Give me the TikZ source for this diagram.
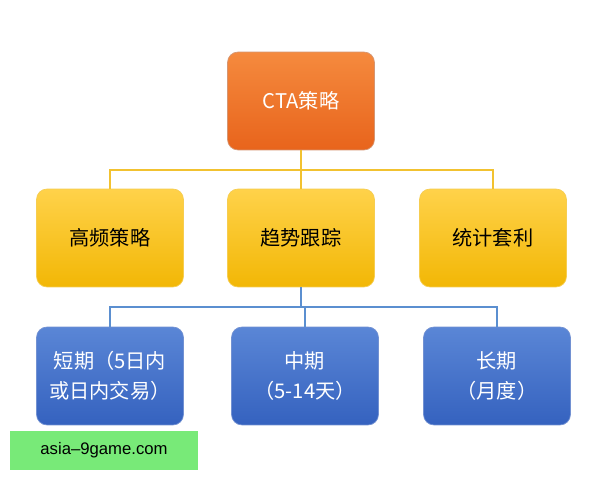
\documentclass[tikz,border=0pt]{standalone}
\usepackage{fontspec}
\setmainfont{Noto Sans CJK SC}
\usetikzlibrary{positioning}
\definecolor{orT}{HTML}{F58A3E}\definecolor{orB}{HTML}{E8641C}
\definecolor{yeT}{HTML}{FFD24A}\definecolor{yeB}{HTML}{F2B705}
\definecolor{blT}{HTML}{5A86D6}\definecolor{blB}{HTML}{3562BF}
\definecolor{yline}{HTML}{F2C230}\definecolor{bline}{HTML}{5B8FD0}
\definecolor{wm}{HTML}{78EA78}
\begin{document}
\begin{tikzpicture}[x=0.02cm,y=-0.02cm,
 box/.style={rounded corners=6pt,minimum width=2.94cm,minimum height=1.96cm,align=center,font=\fontsize{11.5}{17}\selectfont,inner sep=0pt},
 obox/.style={box,top color=orT,bottom color=orB,draw=orB!80!black!60,text=white},
 ybox/.style={box,top color=yeT,bottom color=yeB,draw=yeB!70,text=black},
 bbox/.style={box,top color=blT,bottom color=blB,draw=blB!70,text=white},
 yl/.style={yline,line width=1.2pt},
 bl/.style={bline,line width=1.2pt}]
\useasboundingbox (0,0) rectangle (600,480);
\fill[white] (0,0) rectangle (600,480);
\node[obox] (top) at (301,101) {CTA策略};
\node[ybox] (m1) at (110,238) {高频策略};
\node[ybox] (m2) at (301,238) {趋势跟踪};
\node[ybox] (m3) at (493,238) {统计套利};
\node[bbox] (b1) at (110,376) {短期（5日内\\或日内交易）};
\node[bbox] (b2) at (305,376) {中期\\（5-14天）};
\node[bbox] (b3) at (497,376) {长期\\（月度）};
\coordinate (yj) at (301,170);
\coordinate (bj) at (301,307);
\draw[yl] (top.south) -- (yj);
\draw[yl] (m1.north) |- (yj) -| (m3.north);
\draw[yl] (yj) -- (m2.north);
\draw[bl] (m2.south) -- (bj);
\draw[bl] (b1.north) |- (bj) -| (b3.north);
\draw[bl] (bj) -| (b2.north);
\fill[wm] (10,431) rectangle (198,470);
\node[font=\fontspec{Liberation Sans}\fontsize{9.5}{11}\selectfont] (wmt) at (104,450.5) {asia–9game.com};
\end{tikzpicture}
\end{document}
